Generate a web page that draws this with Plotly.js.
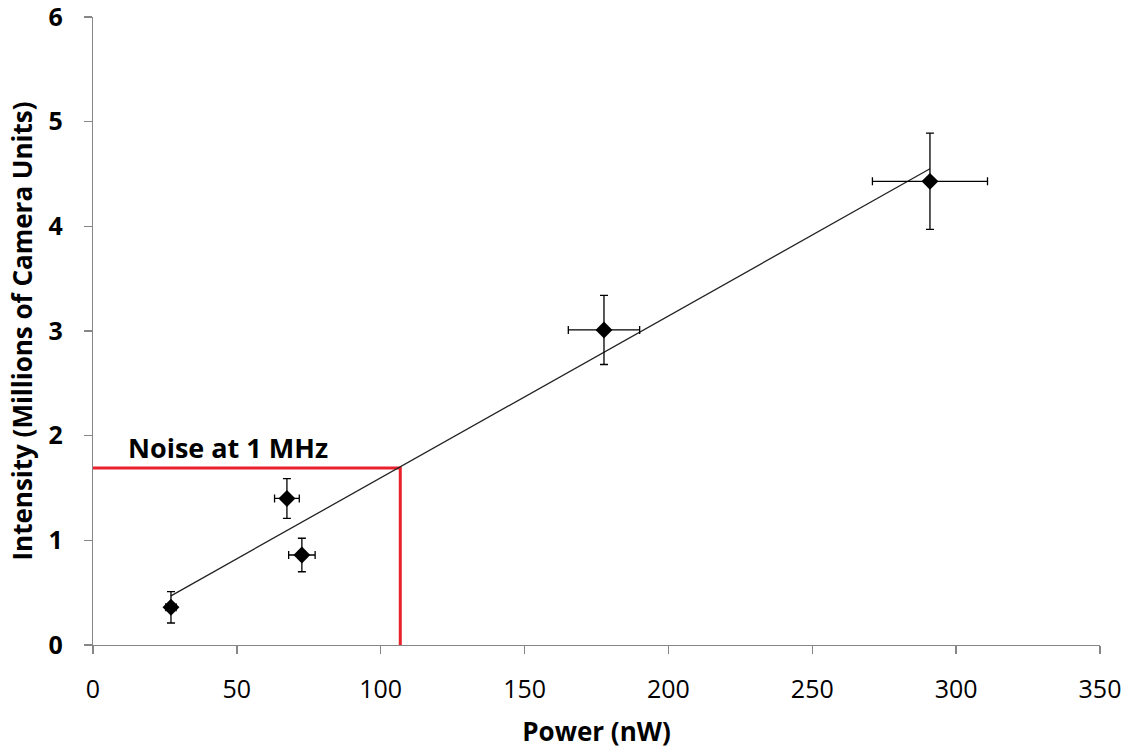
<!DOCTYPE html>
<html>
<head>
<meta charset="utf-8">
<script src="https://cdn.plot.ly/plotly-3.0.1.min.js"></script>
<style>html,body{margin:0;padding:0;background:#fff;}#chart{width:1130px;height:750px;}</style>
</head>
<body>
<div id="chart"></div>
<script>
// Measured data points
var power = [27.1, 67.4, 72.6, 177.6, 290.9];
var intensity = [0.36, 1.40, 0.86, 3.01, 4.43];
var powerErr = [1.8, 4.3, 4.6, 12.4, 20.0];
var intensityErr = [0.15, 0.19, 0.16, 0.33, 0.46];

// Linear fit line (endpoints)
var fitX = [27.1, 290.9];
var fitY = [0.47, 4.55];

// Noise level marker
var noiseX = [0, 106.8, 106.8];
var noiseY = [1.69, 1.69, 0];
var noiseLabel = "Noise at 1 MHz";

var xTicks = [0, 50, 100, 150, 200, 250, 300, 350];
var yTicks = [0, 1, 2, 3, 4, 5, 6];

var font = "Open Sans, Liberation Sans, sans-serif";

var traces = [
  {x: noiseX, y: noiseY, mode: 'lines', type: 'scatter',
   line: {color: '#e8212b', width: 3}, hoverinfo: 'skip', showlegend: false},
  {x: fitX, y: fitY, mode: 'lines', type: 'scatter',
   line: {color: '#222222', width: 1.3}, showlegend: false},
  {x: power, y: intensity, mode: 'markers', type: 'scatter',
   marker: {symbol: 'diamond', size: 13, color: '#000'},
   error_x: {type: 'data', array: powerErr, visible: true, color: '#000', thickness: 1.3, width: 4},
   error_y: {type: 'data', array: intensityErr, visible: true, color: '#000', thickness: 1.3, width: 4},
   showlegend: false}
];

var layout = {
  width: 1130, height: 750,
  paper_bgcolor: '#fff', plot_bgcolor: '#fff',
  margin: {l: 93, r: 30, t: 17, b: 105},
  showlegend: false,
  xaxis: {
    range: [0, 350], tickvals: xTicks, ticktext: xTicks.map(String),
    showgrid: false, zeroline: false, showline: true, linecolor: '#868686', linewidth: 1.3,
    ticks: 'outside', ticklen: 8, tickcolor: '#868686', tickwidth: 1.3,
    ticklabelstandoff: 14, automargin: false, ticklabeloverflow: 'allow',
    tickfont: {family: font, size: 25, color: '#000'},
    title: {text: '<b>Power (nW)</b>', font: {family: font, size: 26, color: '#000'}, standoff: 18}
  },
  yaxis: {
    range: [0, 6], tickvals: yTicks, ticktext: yTicks.map(function(v){return '<b>' + v + '</b>';}),
    showgrid: false, zeroline: false, showline: true, linecolor: '#868686', linewidth: 1.3,
    ticks: 'outside', ticklen: 8, tickcolor: '#868686', tickwidth: 1.3,
    ticklabelstandoff: 16, automargin: false, ticklabeloverflow: 'allow',
    tickfont: {family: font, size: 25, color: '#000'},
    title: {text: '<b>Intensity (Millions of Camera Units)</b>', font: {family: font, size: 26, color: '#000'}, standoff: 8}
  },
  annotations: [{
    x: 0, y: 1.69, xref: 'x', yref: 'y', xanchor: 'left', yanchor: 'bottom',
    xshift: 33, yshift: 0,
    text: '<b>' + noiseLabel + '</b>', showarrow: false,
    font: {family: font, size: 27, color: '#000'}
  }]
};

Plotly.newPlot('chart', traces, layout, {displayModeBar: false, staticPlot: true});
</script>
</body>
</html>
